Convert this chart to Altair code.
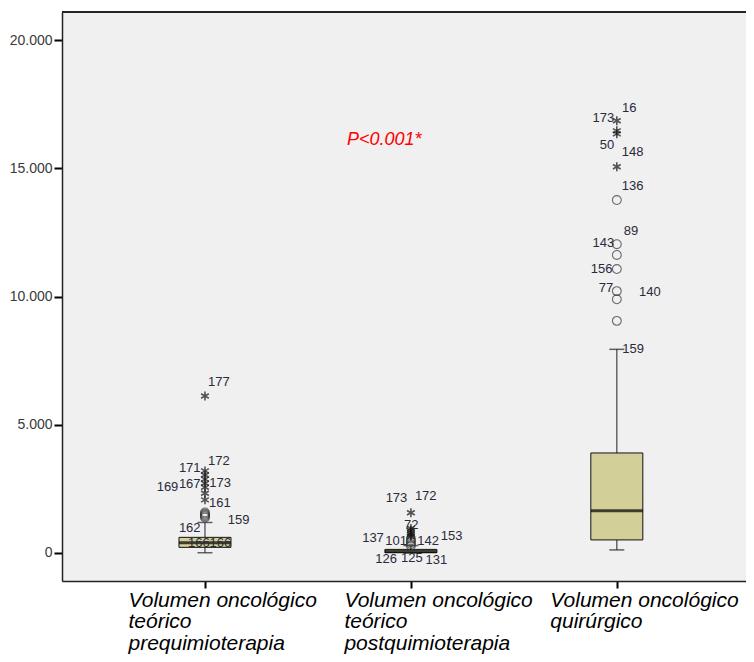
import json
import altair as alt
import pandas as pd

# ---- data ----
group_pos = [0, 1, 2]
label_lines = [
    ["Volumen oncológico", "teórico", "prequimioterapia"],
    ["Volumen oncológico", "teórico", "postquimioterapia"],
    ["Volumen oncológico", "quirúrgico"],
]
whisker_low = [10, 0, 120]
q1 = [220, 10, 510]
median = [400, 60, 1650]
q3 = [610, 140, 3900]
whisker_high = [1190, 290, 7940]

circle_group = [0, 0, 0, 0, 0, 1, 1, 1, 1, 1, 2, 2, 2, 2, 2, 2, 2]
circle_value = [1380, 1430, 1480, 1530, 1580,
                280, 350, 420, 490, 560,
                13760, 12040, 11620, 11070, 10210, 9890, 9050]
star_group = [0, 0, 0, 0, 0, 0, 0, 0, 1, 1, 1, 1, 1, 1, 2, 2, 2, 2]
star_value = [6120, 3200, 3040, 2880, 2720, 2560, 2330, 2070,
              1570, 960, 880, 800, 720, 640,
              16850, 16460, 16340, 15060]

case_label = ["177", "172", "171", "167", "173", "169", "161", "159", "162", "166", "166",
              "173", "172", "72", "137", "101", "142", "153", "126", "125", "131",
              "16", "173", "50", "148", "136", "89", "143", "156", "77", "140", "159"]
case_label_x = [0.067, 0.067, -0.074, -0.074, 0.074, -0.182, 0.072, 0.163, -0.074, -0.03, 0.075,
                0.930, 1.072, 1.002, 0.816, 0.928, 1.084, 1.198, 0.880, 1.005, 1.124,
                2.060, 1.935, 1.952, 2.077, 2.077, 2.069, 1.935, 1.926, 1.947, 2.160, 2.079]
case_label_y = [6680, 3590, 3310, 2690, 2730, 2570, 1960, 1290, 975, 400, 400,
                2140, 2220, 1090, 585, 470, 470, 660, -235, -195, -275,
                17350, 16960, 15905, 15635, 14310, 12555, 12085, 11070, 10330, 10190, 7940]

p_text = ["P<0.001*"]
p_x = [0.871]
p_y = [15900]

y_ticks = [0, 5000, 10000, 15000, 20000]
x_domain = [-0.67, 2.603]
y_domain = [-1092, 21092]

W, H = 684, 569
FONT = "Liberation Sans"

boxes = pd.DataFrame({"g": group_pos, "wl": whisker_low, "q1": q1, "med": median,
                      "q3": q3, "wh": whisker_high})
circles = pd.DataFrame({"g": circle_group, "v": circle_value})
stars = pd.DataFrame({"g": star_group, "v": star_value})
labels = pd.DataFrame({"t": case_label, "x": case_label_x, "y": case_label_y})
ptxt = pd.DataFrame({"t": p_text, "x": p_x, "y": p_y})

label_expr = ""
for i, lines in enumerate(label_lines[:-1]):
    label_expr += f"datum.value == {group_pos[i]} ? {json.dumps(lines, ensure_ascii=False)} : "
label_expr += json.dumps(label_lines[-1], ensure_ascii=False)

xs = alt.Scale(domain=x_domain, nice=False, zero=False)
ys = alt.Scale(domain=y_domain, nice=False, zero=False)

x_axis = alt.Axis(values=group_pos, labelExpr=label_expr, title=None, grid=False,
                  tickSize=7, tickWidth=2, tickColor="#000",
                  domainColor="#222", domainWidth=1.5,
                  labelFont=FONT, labelFontStyle="italic", labelFontSize=21,
                  labelColor="#000", labelAlign="left", labelLimit=400,
                  labelOffset={"condition": {"test": "datum.value == 0", "value": -77},
                               "value": -67},
                  labelPadding=1, labelLineHeight=21.5, labelBaseline="top")
y_axis = alt.Axis(values=y_ticks, labelExpr="replace(format(datum.value, ','), ',', '.')",
                  title=None, grid=False, tickSize=8, tickWidth=2, tickColor="#000",
                  domainColor="#222", domainWidth=1.5,
                  labelFont=FONT, labelFontSize=14, labelColor="#3a3a3a", labelPadding=2)

base_box = alt.Chart(boxes)
X = alt.X("g:Q", scale=xs, axis=x_axis)

wh_lo = base_box.mark_rule(color="#444", strokeWidth=1.2).encode(
    x=X, y=alt.Y("wl:Q", scale=ys, axis=y_axis), y2="q1:Q")
wh_hi = base_box.mark_rule(color="#444", strokeWidth=1.2).encode(
    x="g:Q", y="q3:Q", y2="wh:Q")
box = base_box.mark_bar(size=52, fill="#d3cf99", stroke="#111", strokeWidth=1).encode(
    x="g:Q", y="q1:Q", y2="q3:Q")
med = base_box.mark_tick(orient="horizontal", size=52, thickness=3, color="#000").encode(
    x="g:Q", y="med:Q")
cap_lo = base_box.mark_tick(orient="horizontal", size=15, thickness=1.5, color="#222").encode(
    x="g:Q", y="wl:Q")
cap_hi = base_box.mark_tick(orient="horizontal", size=15, thickness=1.5, color="#222").encode(
    x="g:Q", y="wh:Q")

circ = alt.Chart(circles).mark_point(shape="circle", size=78, filled=False,
                                     stroke="#333", strokeWidth=1.1).encode(x="g:Q", y="v:Q")
star_path = "M0,-1L0,1M-0.87,-0.5L0.87,0.5M-0.87,0.5L0.87,-0.5"
star = alt.Chart(stars).mark_point(shape=star_path, size=80, filled=False,
                                   stroke="#111", strokeWidth=1.6).encode(x="g:Q", y="v:Q")

lab = alt.Chart(labels).mark_text(font=FONT, fontSize=13, color="#2a2a3a",
                                  align="center", baseline="middle").encode(
    x="x:Q", y="y:Q", text="t:N")
pt = alt.Chart(ptxt).mark_text(font=FONT, fontSize=18, fontStyle="italic", color="#ff0000",
                               align="center", baseline="alphabetic").encode(
    x="x:Q", y="y:Q", text="t:N")

top_border = alt.Chart(boxes).mark_rule(color="#222", strokeWidth=1.5).encode(
    x=alt.value(0), x2=alt.value(W), y=alt.value(0))

chart = alt.layer(wh_lo, wh_hi, box, med, cap_lo, cap_hi, circ, star, lab, pt, top_border).properties(
    width=W, height=H,
    autosize=alt.AutoSizeParams(type="none"),
    padding={"left": 54, "top": 4, "right": 0, "bottom": 73},
    background="#ffffff",
).configure_view(fill="#f0f0f0", stroke="transparent")

chart.save("out.html", embed_options={"renderer": "svg", "actions": False})
